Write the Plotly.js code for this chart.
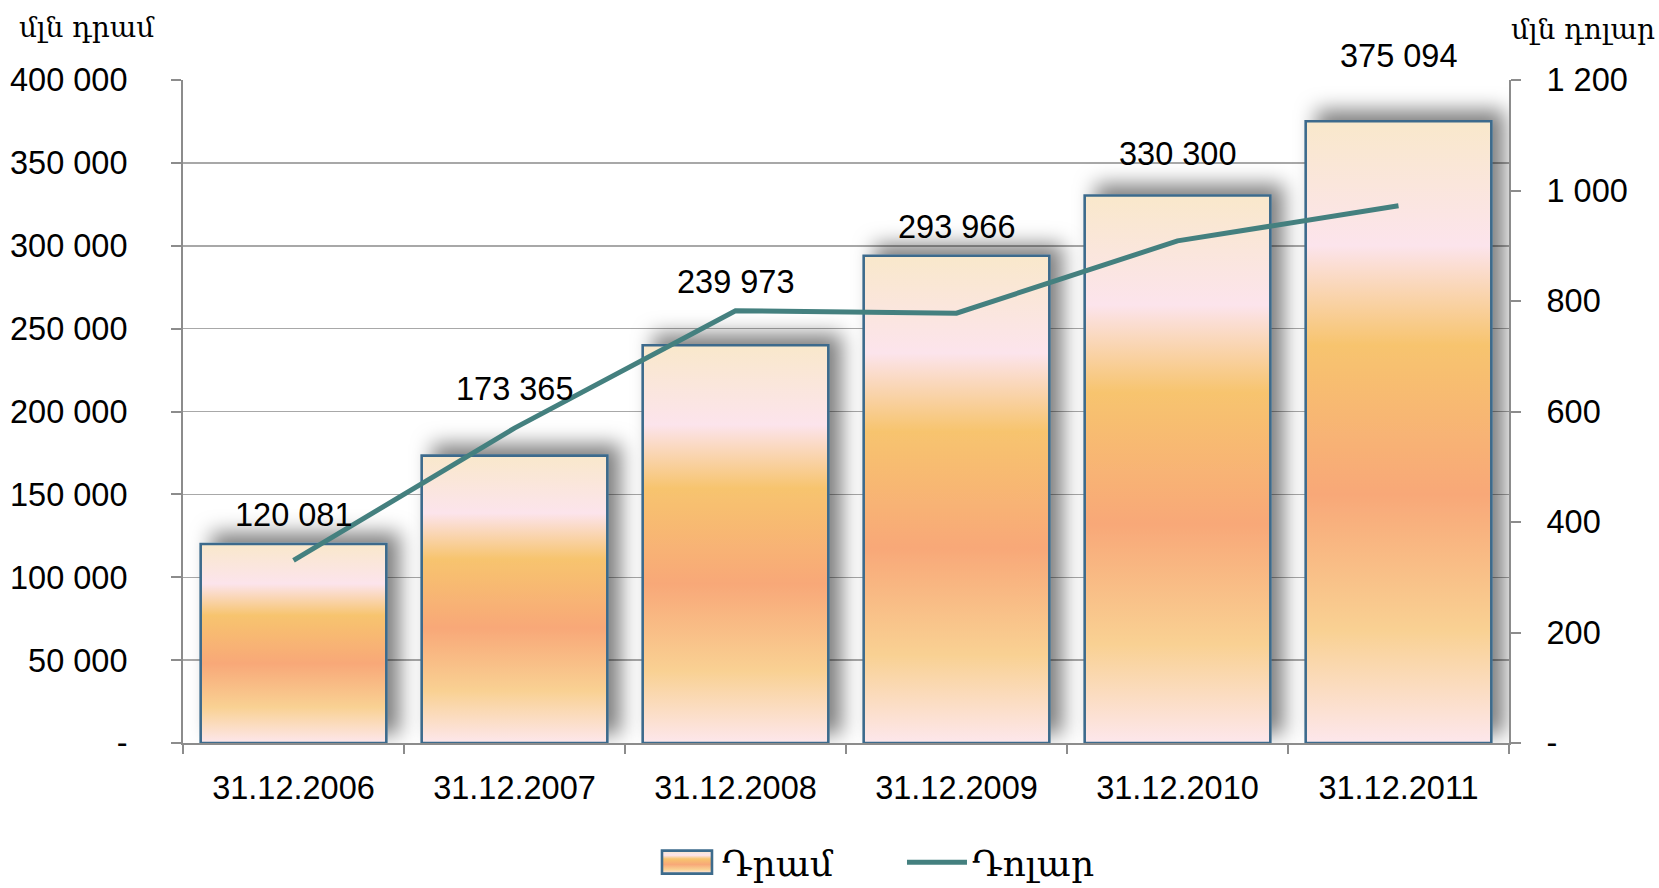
<!DOCTYPE html>
<html><head><meta charset="utf-8">
<script src="https://cdn.plot.ly/plotly-3.0.1.min.js"></script>
<style>html,body{margin:0;padding:0;background:#fff;}#chart{width:1659px;height:888px;}</style>
</head><body><div id="chart"></div>
<script>
const categories = ['31.12.2006','31.12.2007','31.12.2008','31.12.2009','31.12.2010','31.12.2011'];
const dramValues = [120081, 173365, 239973, 293966, 330300, 375094];
const dollarValues = [330.4, 569.9, 782.4, 777.9, 908.8, 972.3];
const leftTickVals = [0, 50000, 100000, 150000, 200000, 250000, 300000, 350000, 400000];
const leftTickText = ['-', '50 000', '100 000', '150 000', '200 000', '250 000', '300 000', '350 000', '400 000'];
const rightTickVals = [0, 200, 400, 600, 800, 1000, 1200];
const rightTickText = ['-', '200', '400', '600', '800', '1 000', '1 200'];
const seriesNames = ['Դրամ', 'Դոլար'];
const axisTitles = ['մլն դրամ', 'մլն դոլար'];

// pixel offsets of the data labels above each bar (placement only)
const labelShiftPx = [29, 67, 63, 29, 42, 65];

const NUM_FONT = 'Liberation Sans, Arial, sans-serif';
const ARM_FONT = 'DejaVu Serif, serif';
const fmt = n => String(n).replace(/\B(?=(\d{3})+(?!\d))/g, ' ');

const data = [
  {
    type: 'bar', name: seriesNames[0], x: categories, y: dramValues,
    marker: { color: '#F8B27A', line: { color: '#3D6B8C', width: 2.6 } },
    hoverinfo: 'skip'
  },
  {
    type: 'scatter', mode: 'lines', name: seriesNames[1], x: categories, y: dollarValues,
    yaxis: 'y2', line: { color: '#44807F', width: 5 }, hoverinfo: 'skip'
  }
];

const annotations = categories.map((c, i) => ({
  x: c, y: dramValues[i], xref: 'x', yref: 'y', yshift: labelShiftPx[i],
  text: fmt(dramValues[i]), showarrow: false, xanchor: 'center', yanchor: 'middle',
  font: { family: NUM_FONT, size: 32.5, color: '#000' }
}));
annotations.push({
  xref: 'paper', yref: 'paper', x: -0.0724, y: 1.0785, xanchor: 'center', yanchor: 'middle',
  text: axisTitles[0], showarrow: false, font: { family: ARM_FONT, size: 28, color: '#000' }
});
annotations.push({
  xref: 'paper', yref: 'paper', x: 1.0561, y: 1.0755, xanchor: 'center', yanchor: 'middle',
  text: axisTitles[1], showarrow: false, font: { family: ARM_FONT, size: 28, color: '#000' }
});

const layout = {
  width: 1659, height: 888,
  margin: { l: 183, r: 150, t: 80, b: 145, pad: 0, autoexpand: false },
  paper_bgcolor: '#fff', plot_bgcolor: '#fff',
  bargap: 0.16,
  showlegend: true,
  legend: {
    orientation: 'h', xref: 'container', yref: 'container',
    x: 0.393, xanchor: 'left', y: 0.029, yanchor: 'middle',
    font: { family: ARM_FONT, size: 36, color: '#000' }, itemwidth: 60,
    entrywidth: 175, entrywidthmode: 'pixels', traceorder: 'normal'
  },
  xaxis: {
    type: 'category', range: [-0.5, 5.5], tickson: 'boundaries',
    ticks: 'outside', ticklen: 9, tickcolor: '#8C8C8C', tickwidth: 2,
    showline: true, linecolor: '#8C8C8C', linewidth: 2, showgrid: false,
    tickfont: { family: NUM_FONT, size: 32.5, color: '#000' }, ticklabelstandoff: 15,
    fixedrange: true
  },
  yaxis: {
    range: [0, 400000], tickmode: 'array', tickvals: leftTickVals, ticktext: leftTickText,
    ticks: 'outside', ticklen: 10, tickcolor: '#8C8C8C', tickwidth: 2,
    showline: true, linecolor: '#8C8C8C', linewidth: 2,
    showgrid: true, gridcolor: '#A8A8A8', gridwidth: 1.5, zeroline: false,
    tickfont: { family: NUM_FONT, size: 32.5, color: '#000' }, ticklabelstandoff: 37,
    fixedrange: true
  },
  yaxis2: {
    overlaying: 'y', side: 'right', range: [0, 1200], tickmode: 'array',
    tickvals: rightTickVals, ticktext: rightTickText,
    ticks: 'outside', ticklen: 10, tickcolor: '#8C8C8C', tickwidth: 2,
    showline: true, linecolor: '#8C8C8C', linewidth: 2, showgrid: false, zeroline: false,
    tickfont: { family: NUM_FONT, size: 32.5, color: '#000' }, ticklabelstandoff: 19,
    fixedrange: true
  },
  annotations: annotations
};

Plotly.newPlot('chart', data, layout, { staticPlot: true, displayModeBar: false }).then(gd => {
  const NS = 'http://www.w3.org/2000/svg';
  const svg = gd.querySelector('svg.main-svg');
  let defs = svg.querySelector('defs');
  if (!defs) { defs = document.createElementNS(NS, 'defs'); svg.insertBefore(defs, svg.firstChild); }
  const grad = document.createElementNS(NS, 'linearGradient');
  grad.setAttribute('id', 'barGrad');
  grad.setAttribute('x1', '0'); grad.setAttribute('y1', '0');
  grad.setAttribute('x2', '0'); grad.setAttribute('y2', '1');
  [[0, '#F9E8CB'], [0.2, '#FCE4EC'], [0.36, '#F7C46E'], [0.6, '#F8A878'], [0.82, '#F9D193'], [1, '#FDE7EC']]
    .forEach(([o, c]) => {
      const s = document.createElementNS(NS, 'stop');
      s.setAttribute('offset', o); s.setAttribute('stop-color', c);
      grad.appendChild(s);
    });
  defs.appendChild(grad);
  const filt = document.createElementNS(NS, 'filter');
  filt.setAttribute('id', 'barShadow');
  filt.setAttribute('x', '-40%'); filt.setAttribute('y', '-40%');
  filt.setAttribute('width', '180%'); filt.setAttribute('height', '180%');
  const ds = document.createElementNS(NS, 'feDropShadow');
  ds.setAttribute('dx', '12'); ds.setAttribute('dy', '-10');
  ds.setAttribute('stdDeviation', '10');
  ds.setAttribute('flood-color', '#000'); ds.setAttribute('flood-opacity', '0.5');
  filt.appendChild(ds);
  defs.appendChild(filt);

  gd.querySelectorAll('.barlayer .point path').forEach(p => {
    p.style.fill = 'url(#barGrad)';
    p.setAttribute('filter', 'url(#barShadow)');
  });
  gd.querySelectorAll('.legend .legendpoints path.legendundefined, .legend .legendpoints .legendbar path, .legend path.legendbar').forEach(p => {
    p.setAttribute('d', 'M-25,11.5H25V-11.5H-25Z');
    p.style.fill = 'url(#barGrad)';
    p.style.stroke = '#3D6B8C';
    p.style.strokeWidth = '2.6px';
  });
});
</script>
</body></html>
